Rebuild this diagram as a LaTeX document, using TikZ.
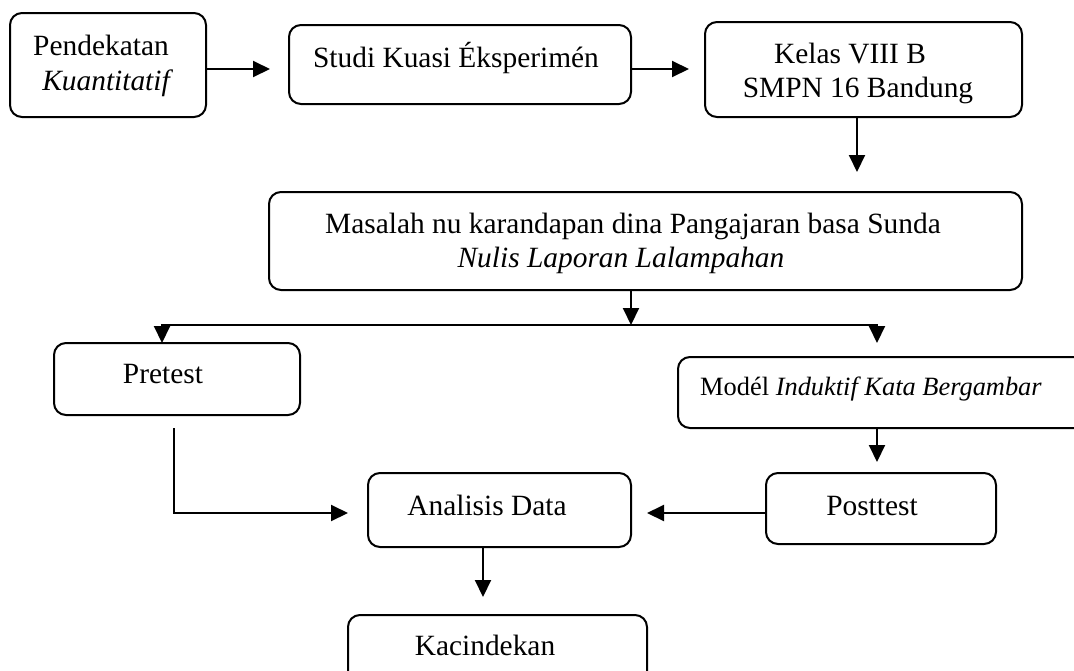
\documentclass[tikz,border=0pt]{standalone}
\usepackage{fontspec}
\setmainfont{Liberation Serif}
\usetikzlibrary{arrows.meta}
\tikzset{
  box/.style={draw, rounded corners=12pt, line width=2pt, inner sep=0pt, outer sep=0pt},
  txt/.style={anchor=base, inner sep=0pt, font=\fontsize{29.4}{35}\selectfont},
  smalltxt/.style={anchor=base, inner sep=0pt, font=\fontsize{26.4}{31}\selectfont},
  arr/.style={line width=2pt, -{Triangle[length=17pt,width=16pt]}},
}
\begin{document}
\begin{tikzpicture}[x=1pt,y=-1pt]
\useasboundingbox (0,0) rectangle (1074,670);
\clip (0,0) rectangle (1074,670);
% boxes
\node[box, minimum width=196pt, minimum height=104pt] (b1) at (108,65) {};
\node[box, minimum width=342pt, minimum height=79pt] (b2) at (460,64.5) {};
\node[box, minimum width=317pt, minimum height=95pt] (b3) at (863.5,69.5) {};
\node[box, minimum width=753pt, minimum height=98pt] (b4) at (645.5,241) {};
\node[box, minimum width=246pt, minimum height=72pt] (pre) at (177,379) {};
\node[box, minimum width=422pt, minimum height=71pt] (mod) at (889,392.5) {};
\node[box, minimum width=230pt, minimum height=71pt] (post) at (881,508.5) {};
\node[box, minimum width=263pt, minimum height=74pt] (an) at (499.5,510) {};
\node[box, minimum width=299pt, minimum height=85pt] (kc) at (497.5,657.5) {};
% texts
\node[txt] (t1a) at (101,55) {Pendekatan};
\node[txt] (t1b) at (106,90) {\itshape Kuantitatif};
\node[txt] (t2a) at (456,67) {Studi Kuasi Éksperimén};
\node[txt] (t3a) at (850,63) {Kelas VIII B};
\node[txt] (t3b) at (858,97) {SMPN 16 Bandung};
\node[txt] (t4a) at (633,233) {Masalah nu karandapan dina Pangajaran basa Sunda};
\node[txt] (t4b) at (621,267) {\itshape Nulis Laporan Lalampahan};
\node[txt] (tpre) at (163,383) {Pretest};
\node[smalltxt] (tmod) at (871,395) {Modél \textit{Induktif Kata Bergambar}};
\node[txt] (tpost) at (872,515) {Posttest};
\node[txt] (tan) at (487,515) {Analisis Data};
\node[txt] (tkc) at (485,655) {Kacindekan};
% connector ends
\coordinate (e1) at (270,69);
\coordinate (e2) at (689,69);
\coordinate (e3) at (857,172);
\coordinate (sp) at (631,325);
\coordinate (e4) at (162,343);
\coordinate (e5) at (877,343);
\coordinate (e6) at (877,462);
\coordinate (s7) at (174,428);
\coordinate (e7) at (348,513);
\coordinate (e8) at (647,513);
\coordinate (e9) at (483,597);
% connectors
\draw[arr] (b1.east |- e1) -- (e1);
\draw[arr] (b2.east |- e2) -- (e2);
\draw[arr] (b3.south -| e3) -- (e3);
\draw[arr] (b4.south -| sp) -- (sp);
\draw[arr] (sp) -| (e4);
\draw[arr] (sp) -| (e5);
\draw[arr] (mod.south -| e6) -- (e6);
\draw[arr] (s7) |- (e7);
\draw[arr] (post.west |- e8) -- (e8);
\draw[arr] (an.south -| e9) -- (e9);
\end{tikzpicture}
\end{document}
